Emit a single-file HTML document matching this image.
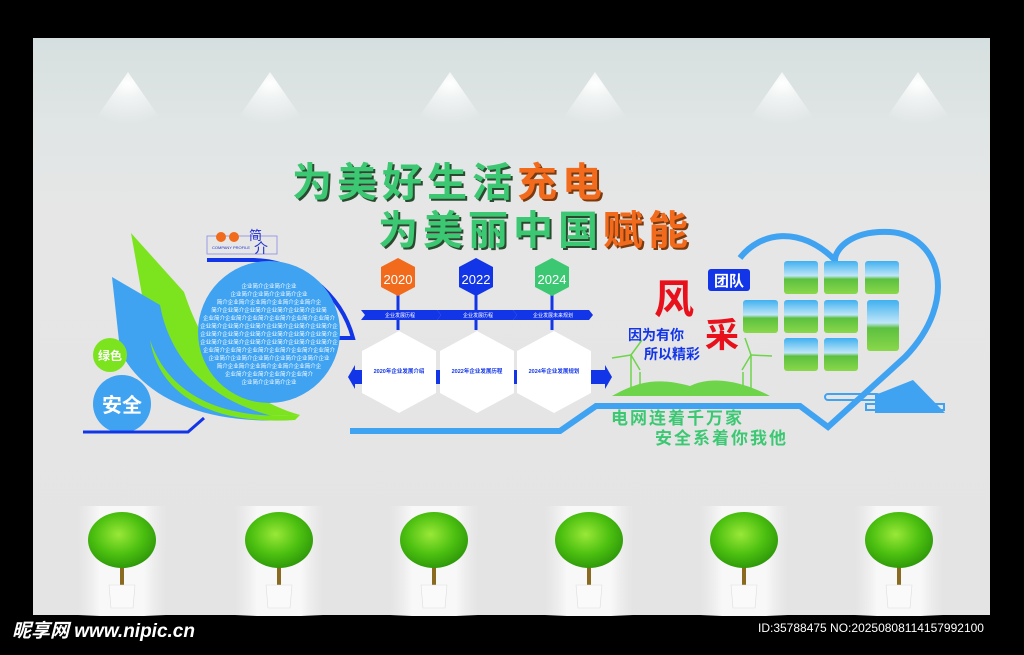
<!DOCTYPE html>
<html><head><meta charset="utf-8"><style>
html,body{margin:0;padding:0;background:#000;width:1024px;height:655px;overflow:hidden}
svg{display:block}
text{font-family:"Liberation Sans","Noto Sans CJK SC",sans-serif}
</style></head><body>
<svg width="1024" height="655" viewBox="0 0 1024 655" xmlns="http://www.w3.org/2000/svg">
<defs>
<linearGradient id="wall" x1="0" y1="0" x2="0" y2="1">
<stop offset="0" stop-color="#d6dfdf"/><stop offset="0.15" stop-color="#e0e5e5"/><stop offset="0.3" stop-color="#e6e6e6"/><stop offset="1" stop-color="#e4e4e4"/></linearGradient>
<radialGradient id="lamp" cx="0.5" cy="0.2" r="0.7">
<stop offset="0" stop-color="#fff" stop-opacity="1"/><stop offset="0.35" stop-color="#fff" stop-opacity="0.6"/><stop offset="1" stop-color="#fff" stop-opacity="0"/></radialGradient>
<radialGradient id="leaf" cx="0.45" cy="0.4" r="0.6">
<stop offset="0" stop-color="#9ae838"/><stop offset="0.6" stop-color="#4cc010"/><stop offset="1" stop-color="#2f9a0a"/></radialGradient>
<linearGradient id="photo" x1="0" y1="0" x2="0" y2="1">
<stop offset="0" stop-color="#3fb0f0"/><stop offset="0.45" stop-color="#bfe6f8"/><stop offset="0.55" stop-color="#5cc040"/><stop offset="1" stop-color="#8ad84a"/></linearGradient>
<linearGradient id="pw" x1="0" y1="0" x2="1" y2="0">
<stop offset="0" stop-color="#f0f0f0" stop-opacity="0"/><stop offset="0.25" stop-color="#f8f8f8"/><stop offset="0.75" stop-color="#f8f8f8"/><stop offset="1" stop-color="#f0f0f0" stop-opacity="0"/></linearGradient>
</defs>
<rect x="0" y="0" width="1024" height="655" fill="#000"/>
<rect x="33" y="38" width="957" height="577" fill="url(#wall)"/>
<g fill="url(#lamp)">
<path d="M128 72 L88 130 L168 130 Z"/><path d="M270 72 L230 130 L310 130 Z"/><path d="M450 72 L410 130 L490 130 Z"/><path d="M595 72 L555 130 L635 130 Z"/><path d="M782 72 L742 130 L822 130 Z"/><path d="M918 72 L878 130 L958 130 Z"/>
</g>

<!-- Title -->
<g font-size="40" font-weight="bold" letter-spacing="5">
<text x="294" y="198" fill="#2a4a30">为美好生活<tspan fill="#7a3a10">充电</tspan></text>
<text x="292" y="196" fill="#3cc873">为美好生活<tspan fill="#f26a1b">充电</tspan></text>
<text x="380" y="246" fill="#2a4a30">为美丽中国<tspan fill="#7a3a10">赋能</tspan></text>
<text x="378" y="244" fill="#3cc873">为美丽中国<tspan fill="#f26a1b">赋能</tspan></text>
</g>

<!-- Left wings -->
<path d="M131 233 L184 292 C200 340 230 395 300 415 C230 420 170 400 150 340 Z" fill="#7ce41e"/>
<path d="M112 277 L160 305 C170 360 210 405 290 420 C200 425 140 395 120 350 Z" fill="#3fa3f2"/>
<path d="M150 340 C170 400 230 420 300 415 L295 420 C220 425 160 400 150 340Z" fill="#7ce41e"/>
<circle cx="110" cy="355" r="17" fill="#7ce41e"/>
<text x="110" y="360" font-size="12" font-weight="bold" fill="#fff" text-anchor="middle">绿色</text>
<circle cx="122" cy="404" r="29" fill="#3fa3f2"/>
<text x="122" y="412" font-size="20" font-weight="bold" fill="#fff" text-anchor="middle">安全</text>
<path d="M83 432 L188 432 L204 418" fill="none" stroke="#1235e8" stroke-width="3"/>

<!-- company profile badge -->
<rect x="207" y="236" width="70" height="18" fill="none" stroke="#8a8ae8" stroke-width="0.8"/>
<circle cx="221" cy="237" r="5" fill="#f26a1b"/><circle cx="234" cy="237" r="5" fill="#f26a1b"/>
<text x="249" y="240" font-size="13" fill="#2030d0">简</text><text x="254" y="253" font-size="14" fill="#2030d0">介</text>
<text x="212" y="249" font-size="4" fill="#2030d0">COMPANY PROFILE</text>

<!-- big circle -->
<path d="M207 260 L250 260 A105 105 0 0 1 353 338 L337 338" fill="none" stroke="#1235e8" stroke-width="4"/>
<circle cx="269" cy="332" r="71" fill="#3fa3f2"/>
<g font-size="5.5" fill="#fff" text-anchor="middle">
<text x="269" y="288">企业简介企业简介企业</text>
<text x="269" y="296">企业简介企业简介企业简介企业</text>
<text x="269" y="304">简介企业简介企业简介企业简介企业简介企</text>
<text x="269" y="312">简介企业简介企业简介企业简介企业简介企业简</text>
<text x="269" y="320">企业简介企业简介企业简介企业简介企业简介企业简介</text>
<text x="269" y="328">企业简介企业简介企业简介企业简介企业简介企业简介企</text>
<text x="269" y="336">企业简介企业简介企业简介企业简介企业简介企业简介企</text>
<text x="269" y="344">企业简介企业简介企业简介企业简介企业简介企业简介企</text>
<text x="269" y="352">企业简介企业简介企业简介企业简介企业简介企业简介</text>
<text x="269" y="360">企业简介企业简介企业简介企业简介企业简介企业</text>
<text x="269" y="368">简介企业简介企业简介企业简介企业简介企</text>
<text x="269" y="376">企业简介企业简介企业简介企业简介</text>
<text x="269" y="384">企业简介企业简介企业</text>
</g>

<!-- timeline -->
<g>
<line x1="398" y1="290" x2="398" y2="330" stroke="#1235e8" stroke-width="3"/>
<line x1="476" y1="290" x2="476" y2="330" stroke="#1235e8" stroke-width="3"/>
<line x1="552" y1="290" x2="552" y2="330" stroke="#1235e8" stroke-width="3"/>
<polygon points="398,258 415,267 415,287 398,296 381,287 381,267" fill="#f26a1b"/>
<polygon points="476,258 493,267 493,287 476,296 459,287 459,267" fill="#1235e8"/>
<polygon points="552,258 569,267 569,287 552,296 535,287 535,267" fill="#3cc873"/>
<g font-size="13" fill="#fff" text-anchor="middle"><text x="398" y="284">2020</text><text x="476" y="284">2022</text><text x="552" y="284">2024</text></g>
<polygon points="361,310 437,310 441,315 437,320 361,320 365,315" fill="#1235e8"/>
<polygon points="437,310 513,310 517,315 513,320 437,320 441,315" fill="#1235e8"/>
<polygon points="513,310 589,310 593,315 589,320 513,320 517,315" fill="#1235e8"/>
<g font-size="5" fill="#fff" text-anchor="middle"><text x="400" y="317">企业发展历程</text><text x="478" y="317">企业发展历程</text><text x="553" y="317">企业发展未来规划</text></g>
<rect x="355" y="370" width="250" height="14" fill="#1235e8"/>
<polygon points="348,377 355,365 355,389" fill="#1235e8"/><polygon points="605,365 605,389 612,377" fill="#1235e8"/>
<polygon points="399,331 436,351 436,393 399,413 362,393 362,351" fill="#fff"/>
<polygon points="477,331 514,351 514,393 477,413 440,393 440,351" fill="#fff"/>
<polygon points="554,331 591,351 591,393 554,413 517,393 517,351" fill="#fff"/>
<g font-size="5.5" fill="#1235e8" text-anchor="middle" font-weight="bold"><text x="399" y="373">2020年企业发展介绍</text><text x="477" y="373">2022年企业发展历程</text><text x="554" y="373">2024年企业发展规划</text></g>
</g>

<!-- bottom blue line + heart -->
<path d="M350 431 L560 431 L596 406 L800 406 L828 427 L905 357 C960 300 940 235 890 232 C850 230 835 250 835 260 C800 225 760 232 740 258" fill="none" stroke="#3fa3f2" stroke-width="6" stroke-linejoin="miter"/>
<polygon points="875,395 913,380 945,413 875,413" fill="#3fa3f2"/>
<rect x="825" y="394" width="55" height="6" rx="3" fill="none" stroke="#3fa3f2" stroke-width="2"/>
<rect x="866" y="404" width="78" height="6" fill="none" stroke="#3fa3f2" stroke-width="2"/>

<!-- photos -->
<g fill="url(#photo)">
<rect x="784" y="261" width="34" height="33" rx="3"/><rect x="824" y="261" width="34" height="33" rx="3"/><rect x="865" y="261" width="34" height="33" rx="3"/>
<rect x="743" y="300" width="35" height="33" rx="3"/><rect x="784" y="300" width="34" height="33" rx="3"/><rect x="824" y="300" width="34" height="33" rx="3"/><rect x="867" y="300" width="32" height="51" rx="3"/>
<rect x="784" y="338" width="34" height="33" rx="3"/><rect x="824" y="338" width="34" height="33" rx="3"/>
</g>

<!-- team -->
<rect x="708" y="269" width="42" height="22" rx="3" fill="#1235e8"/>
<text x="729" y="286" font-size="15" font-weight="bold" fill="#fff" text-anchor="middle">团队</text>
<text x="654" y="313" font-size="40" font-weight="bold" fill="#e8101a" font-family="'Noto Serif CJK SC',serif">风</text>
<text x="705" y="347" font-size="34" font-weight="bold" fill="#e8101a" font-family="'Noto Serif CJK SC',serif">采</text>
<text x="628" y="340" font-size="14" font-weight="bold" fill="#1235e8">因为有你</text>
<text x="644" y="359" font-size="14" font-weight="bold" fill="#1235e8">所以精彩</text>
<!-- landscape -->
<path d="M612 396 C640 380 660 378 690 386 C710 376 740 380 770 396 Z" fill="#6ed44a"/>
<g stroke="#6ed44a" stroke-width="1.5" fill="none">
<line x1="631" y1="396" x2="631" y2="355"/><line x1="631" y1="355" x2="612" y2="358"/><line x1="631" y1="355" x2="642" y2="340"/><line x1="631" y1="355" x2="640" y2="370"/>
<line x1="640" y1="396" x2="640" y2="372"/>
<line x1="751" y1="396" x2="751" y2="355"/><line x1="751" y1="355" x2="772" y2="356"/><line x1="751" y1="355" x2="745" y2="338"/><line x1="751" y1="355" x2="742" y2="370"/>
<line x1="743" y1="396" x2="743" y2="372"/>
</g>
<g font-size="17" font-weight="bold" fill="#3cc873" letter-spacing="2">
<text x="611" y="424">电网连着千万家</text>
<text x="655" y="444">安全系着你我他</text>
</g>

<!-- plants -->
<g>
<g transform="translate(122,0)">
<rect x="-44" y="506" width="88" height="110" fill="url(#pw)"/>
<rect x="-2" y="555" width="4" height="32" fill="#8a6a20"/>
<ellipse cx="0" cy="540" rx="34" ry="28" fill="url(#leaf)"/>
<path d="M-13 585 L13 585 L11 608 L-11 608 Z" fill="#fafafa" stroke="#ddd" stroke-width="0.6"/>
</g>
<g transform="translate(279,0)">
<rect x="-44" y="506" width="88" height="110" fill="url(#pw)"/>
<rect x="-2" y="555" width="4" height="32" fill="#8a6a20"/>
<ellipse cx="0" cy="540" rx="34" ry="28" fill="url(#leaf)"/>
<path d="M-13 585 L13 585 L11 608 L-11 608 Z" fill="#fafafa" stroke="#ddd" stroke-width="0.6"/>
</g>
<g transform="translate(434,0)">
<rect x="-44" y="506" width="88" height="110" fill="url(#pw)"/>
<rect x="-2" y="555" width="4" height="32" fill="#8a6a20"/>
<ellipse cx="0" cy="540" rx="34" ry="28" fill="url(#leaf)"/>
<path d="M-13 585 L13 585 L11 608 L-11 608 Z" fill="#fafafa" stroke="#ddd" stroke-width="0.6"/>
</g>
<g transform="translate(589,0)">
<rect x="-44" y="506" width="88" height="110" fill="url(#pw)"/>
<rect x="-2" y="555" width="4" height="32" fill="#8a6a20"/>
<ellipse cx="0" cy="540" rx="34" ry="28" fill="url(#leaf)"/>
<path d="M-13 585 L13 585 L11 608 L-11 608 Z" fill="#fafafa" stroke="#ddd" stroke-width="0.6"/>
</g>
<g transform="translate(744,0)">
<rect x="-44" y="506" width="88" height="110" fill="url(#pw)"/>
<rect x="-2" y="555" width="4" height="32" fill="#8a6a20"/>
<ellipse cx="0" cy="540" rx="34" ry="28" fill="url(#leaf)"/>
<path d="M-13 585 L13 585 L11 608 L-11 608 Z" fill="#fafafa" stroke="#ddd" stroke-width="0.6"/>
</g>
<g transform="translate(899,0)">
<rect x="-44" y="506" width="88" height="110" fill="url(#pw)"/>
<rect x="-2" y="555" width="4" height="32" fill="#8a6a20"/>
<ellipse cx="0" cy="540" rx="34" ry="28" fill="url(#leaf)"/>
<path d="M-13 585 L13 585 L11 608 L-11 608 Z" fill="#fafafa" stroke="#ddd" stroke-width="0.6"/>
</g>
</g>

<!-- watermark -->
<text x="12" y="637" font-size="19" font-weight="bold" font-style="italic" fill="#fff">昵享网 www.nipic.cn</text>
<text x="758" y="632" font-size="12" fill="#fff">ID:35788475 NO:20250808114157992100</text>
</svg>
</body></html>
